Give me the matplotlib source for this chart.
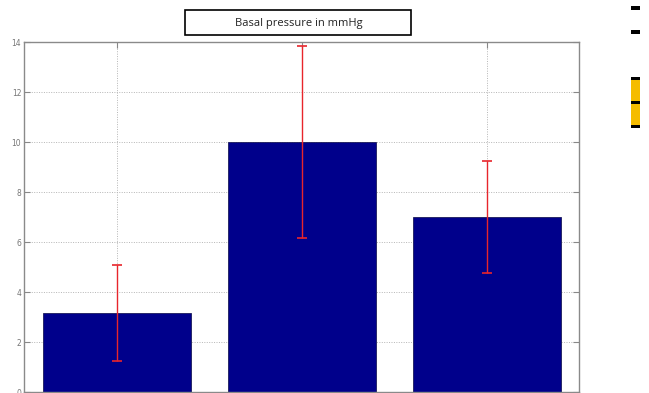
import matplotlib.pyplot as plt
from matplotlib.patches import Rectangle

groups = [1, 2, 3]
means = [3.16, 10.0, 7.0]
errors = [1.92, 3.84, 2.25]
yticks = [0, 2, 4, 6, 8, 10, 12, 14]

W, H = 649, 393
fig = plt.figure(figsize=(W / 100, H / 100), dpi=100)
ax = fig.add_axes([24 / W, 1 - 392 / H, (579 - 24) / W, (392 - 42) / H])

ax.bar(groups, means, width=0.8, color="#00008b", edgecolor="#1a1a5a", linewidth=0.6, zorder=2)
ax.errorbar(groups, means, yerr=errors, fmt="none", ecolor="#e8252b",
            elinewidth=1.0, capsize=3.5, capthick=1.2, zorder=3)

ax.set_xlim(0.5, 3.5)
ax.set_ylim(0, 14)
ax.set_yticks(yticks)
ax.set_xticks(groups)
ax.set_xticklabels([])
ax.tick_params(axis="both", direction="in", length=4, color="#888888",
               labelsize=5.5, labelcolor="#777777", pad=2,
               top=True, right=True)
ax.grid(True, linestyle=(0, (1, 1.5)), color="#b5b5b5", linewidth=0.7, zorder=0)
ax.set_axisbelow(True)
for s in ax.spines.values():
    s.set_color("#8a8a8a")
    s.set_linewidth(1.0)

# boxed title above the axes
fig.patches.append(Rectangle((185 / W, 1 - 35 / H), 226 / W, 25 / H,
                             transform=fig.transFigure, facecolor="white",
                             edgecolor="black", linewidth=1.2, zorder=5))
fig.text(299 / W, 1 - 23.5 / H, "Basal pressure in mmHg", ha="center", va="center",
         fontsize=8, family="Open Sans", color="#222222", zorder=6)

# clipped legend swatches at the right edge
for y in (8, 32):
    fig.patches.append(Rectangle((631 / W, 1 - (y + 1.5) / H), 9 / W, 3 / H,
                                 transform=fig.transFigure, facecolor="black",
                                 edgecolor="none"))
fig.patches.append(Rectangle((631 / W, 1 - 127 / H), 9 / W, 49 / H,
                             transform=fig.transFigure, facecolor="#f5bc00",
                             edgecolor="none"))
for y in (78, 102, 126):
    fig.patches.append(Rectangle((631 / W, 1 - (y + 1.5) / H), 9 / W, 3 / H,
                                 transform=fig.transFigure, facecolor="black",
                                 edgecolor="none"))

fig.savefig("out.png", dpi=100)
